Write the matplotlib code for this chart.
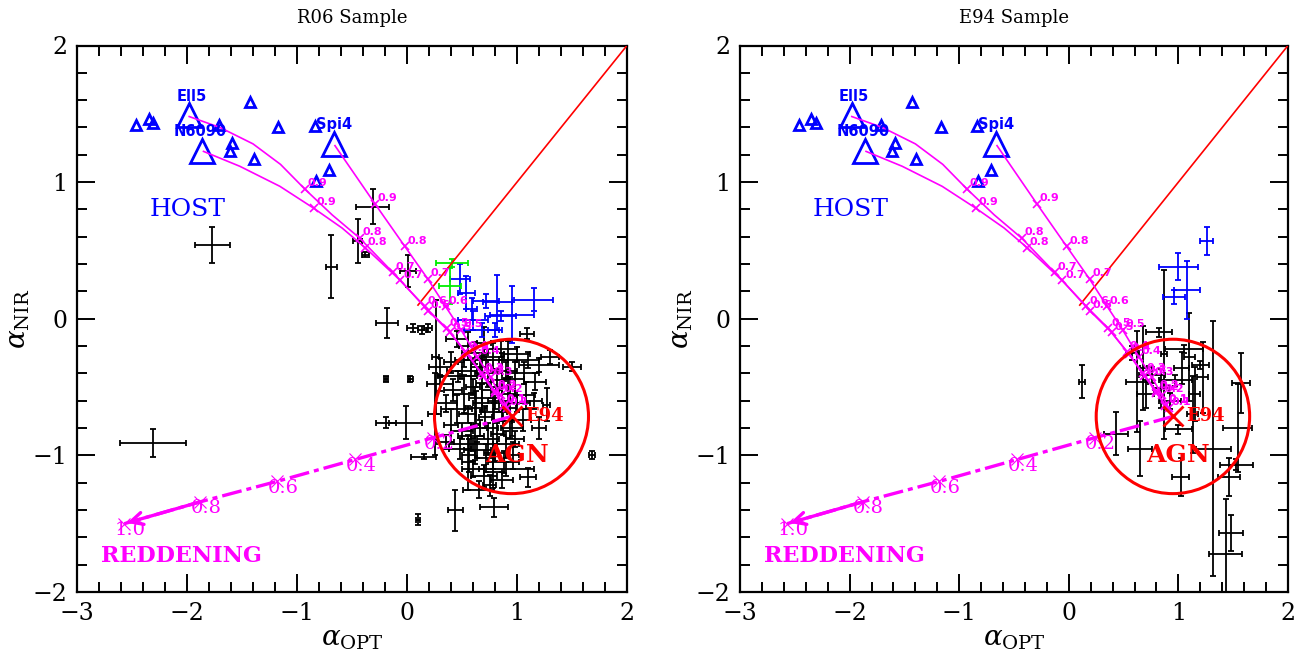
import matplotlib
matplotlib.use('Agg')
import matplotlib.pyplot as plt
from matplotlib.patches import Ellipse
from matplotlib.ticker import MultipleLocator

plt.rcParams['font.family'] = 'DejaVu Serif'
plt.rcParams['mathtext.fontset'] = 'dejavuserif'

# ---------------- data ----------------
titles = ["R06 Sample", "E94 Sample"]

# E94 AGN template
agn_x, agn_y = 0.95, -0.715

# host galaxy templates (small triangles)
host_x = [-2.46, -2.35, -2.31, -1.71, -1.43, -1.17, -1.59, -1.61, -1.39, -0.84, -0.71, -0.83]
host_y = [1.42, 1.46, 1.43, 1.42, 1.59, 1.40, 1.29, 1.23, 1.17, 1.41, 1.09, 1.01]

# labelled templates (large triangles)
tmpl_names = ["Ell5", "N6090", "Spi4"]
tmpl_x = [-1.98, -1.86, -0.66]
tmpl_y = [1.49, 1.23, 1.28]

# mixing tracks host -> AGN
frac_labels = ["0.9", "0.8", "0.7", "0.6", "0.5", "0.4", "0.3", "0.2", "0.1"]
ell5_path_x = [-1.98, -1.70, -1.40, -1.15, -0.93, -0.68, -0.43, -0.13, 0.16, 0.36, 0.53, 0.68, 0.80, 0.88, 0.95]
ell5_path_y = [1.48, 1.40, 1.28, 1.13, 0.95, 0.76, 0.59, 0.34, 0.09, -0.07, -0.24, -0.40, -0.53, -0.63, -0.715]
ell5_mark_x = [-0.93, -0.43, -0.13, 0.16, 0.36, 0.53, 0.68, 0.80, 0.88]
ell5_mark_y = [0.95, 0.59, 0.34, 0.09, -0.07, -0.24, -0.40, -0.53, -0.63]
n6090_path_x = [-1.85, -1.52, -1.155, -0.85, -0.59, -0.38, -0.06, 0.19, 0.39, 0.55, 0.69, 0.80, 0.88, 0.95]
n6090_path_y = [1.225, 1.116, 0.969, 0.81, 0.664, 0.52, 0.28, 0.06, -0.10, -0.26, -0.42, -0.54, -0.64, -0.715]
n6090_mark_x = [-0.85, -0.38, -0.06, 0.19, 0.39, 0.55, 0.69, 0.80, 0.88]
n6090_mark_y = [0.81, 0.52, 0.28, 0.06, -0.10, -0.26, -0.42, -0.54, -0.64]
spi4_path_x = [-0.655, -0.29, -0.02, 0.19, 0.35, 0.49, 0.64, 0.76, 0.85, 0.91, 0.95]
spi4_path_y = [1.267, 0.84, 0.53, 0.29, 0.09, -0.08, -0.28, -0.43, -0.56, -0.65, -0.715]
spi4_mark_x = [-0.29, -0.02, 0.19, 0.35, 0.49, 0.64, 0.76, 0.85, 0.91]
spi4_mark_y = [0.84, 0.53, 0.29, 0.09, -0.08, -0.28, -0.43, -0.56, -0.65]

# reddening vector (E(B-V) steps)
red_labels = ["0.2", "0.4", "0.6", "0.8", "1.0"]
red_x = [0.24, -0.47, -1.18, -1.88, -2.57]
red_y = [-0.87, -1.03, -1.19, -1.34, -1.50]

# R06 sample: black points
r06_x = [0.45, 0.55, 0.62, 0.70, 0.78, 0.85, 0.92, 1.00, 1.10, 1.20, 1.30, 0.40, 0.50, 0.58, 0.66, 0.74,
         0.82, 0.90, 0.98, 1.06, 1.16, 0.30, 0.42, 0.52, 0.60, 0.68, 0.76, 0.84, 0.92, 1.00, 1.08, 0.35,
         0.45, 0.55, 0.63, 0.71, 0.79, 0.87, 0.95, 1.05, 0.40, 0.50, 0.58, 0.66, 0.74, 0.82, 0.90, 0.98,
         0.48, 0.56, 0.64, 0.72, 0.80, 0.88, 0.96, 0.60, 0.70, 0.78, 0.86, 0.65, 0.75, 0.35, 0.30, 0.25,
         0.52, 0.68, 0.86, 0.94, 0.62, 0.78, 0.72, 0.60, 0.90, 0.55, 1.15, 1.20, 0.46, 0.80,
         -1.77, -2.31, -0.69, -0.31, -0.45, -0.38, -0.18, 0.01, 0.05, 0.14, 0.19, -0.19, 0.03, -0.19,
         -0.01, 0.26, 0.10, 0.44, 0.79, 1.68, 1.50, 1.27, 1.10, 1.09, 0.15]
r06_y = [-0.15, -0.20, -0.25, -0.18, -0.28, -0.22, -0.30, -0.26, -0.30, -0.34, -0.28, -0.32, -0.38, -0.42,
         -0.35, -0.40, -0.45, -0.38, -0.44, -0.40, -0.46, -0.48, -0.52, -0.55, -0.50, -0.58, -0.52, -0.60,
         -0.55, -0.62, -0.56, -0.62, -0.66, -0.70, -0.65, -0.72, -0.68, -0.75, -0.80, -0.74, -0.78, -0.82,
         -0.86, -0.80, -0.88, -0.84, -0.92, -0.88, -0.95, -1.00, -0.96, -1.02, -0.98, -1.05, -1.00, -1.10,
         -1.15, -1.12, -1.18, -1.25, -1.22, -0.90, -0.35, -0.70, -0.30, -0.47, -0.50, -0.65, -0.78, -0.80,
         -0.30, -0.92, -1.10, -1.05, -0.60, -0.80, -0.42, -0.62,
         0.54, -0.91, 0.38, 0.82, 0.57, 0.47, -0.03, 0.35, -0.07, -0.08, -0.07, -0.44, -0.44, -0.76,
         -0.76, -0.28, -1.47, -1.40, -1.38, -1.00, -0.35, -0.63, -1.16, -0.11, -1.01]
r06_xerr = [0.10, 0.08, 0.12, 0.06, 0.10, 0.15, 0.08, 0.12, 0.10, 0.18, 0.08, 0.06, 0.14, 0.10, 0.08, 0.12,
            0.06, 0.10, 0.08, 0.14, 0.10, 0.12, 0.08, 0.10, 0.06, 0.12, 0.08, 0.10, 0.06, 0.12, 0.08, 0.10,
            0.14, 0.08, 0.10, 0.06, 0.12, 0.08, 0.10, 0.08, 0.06, 0.10, 0.12, 0.08, 0.10, 0.06, 0.12, 0.08,
            0.10, 0.06, 0.12, 0.08, 0.10, 0.14, 0.06, 0.10, 0.12, 0.08, 0.10, 0.14, 0.06, 0.08, 0.10, 0.06,
            0.08, 0.05, 0.05, 0.05, 0.04, 0.05, 0.20, 0.22, 0.25, 0.05, 0.08, 0.06, 0.18, 0.20,
            0.16, 0.30, 0.05, 0.15, 0.04, 0.03, 0.10, 0.07, 0.05, 0.04, 0.04, 0.02, 0.02, 0.09,
            0.15, 0.03, 0.02, 0.07, 0.13, 0.03, 0.08, 0.03, 0.07, 0.06, 0.11]
r06_yerr = [0.06, 0.10, 0.08, 0.12, 0.10, 0.06, 0.14, 0.05, 0.06, 0.05, 0.05, 0.08, 0.06, 0.12, 0.06, 0.10,
            0.08, 0.06, 0.12, 0.08, 0.06, 0.05, 0.08, 0.14, 0.06, 0.10, 0.06, 0.08, 0.12, 0.06, 0.10, 0.06,
            0.10, 0.06, 0.12, 0.08, 0.06, 0.10, 0.06, 0.08, 0.12, 0.06, 0.10, 0.06, 0.12, 0.08, 0.10, 0.06,
            0.08, 0.12, 0.06, 0.10, 0.06, 0.08, 0.10, 0.06, 0.08, 0.12, 0.06, 0.06, 0.08, 0.05, 0.06, 0.30,
            0.05, 0.20, 0.25, 0.22, 0.28, 0.30, 0.05, 0.05, 0.05, 0.20, 0.06, 0.08, 0.04, 0.04,
            0.13, 0.10, 0.23, 0.13, 0.16, 0.02, 0.11, 0.12, 0.03, 0.03, 0.03, 0.02, 0.02, 0.04,
            0.12, 0.42, 0.04, 0.15, 0.07, 0.03, 0.03, 0.12, 0.07, 0.04, 0.02]

# R06 sample: blue and green points
r06b_x = [0.48, 0.54, 0.59, 0.72, 0.95, 1.15, 0.82, 0.60, 0.68, 0.80, 0.85]
r06b_y = [0.29, 0.19, 0.07, 0.13, 0.03, 0.14, 0.12, -0.01, -0.08, -0.08, 0.02]
r06b_xerr = [0.09, 0.08, 0.05, 0.12, 0.20, 0.18, 0.13, 0.14, 0.16, 0.06, 0.14]
r06b_yerr = [0.11, 0.12, 0.08, 0.05, 0.21, 0.085, 0.20, 0.07, 0.05, 0.05, 0.04]
r06g_x = [0.41, 0.39]
r06g_y = [0.41, 0.24]
r06g_xerr = [0.145, 0.10]
r06g_yerr = [0.03, 0.135]

# E94 sample: black and blue points
e94_x = [0.12, 0.87, 0.82, 0.62, 0.68, 0.65, 0.43, 1.02, 1.10, 1.22, 1.32, 1.57, 1.54, 1.46, 1.53,
         1.48, 1.43, 1.00, 0.76, 1.20, 1.05, 1.03, 0.84, 0.92, 1.13, 0.70, 0.97, 1.15, 0.58]
e94_y = [-0.46, -0.26, -0.10, -0.46, -0.36, -0.95, -0.84, -1.16, -0.28, -0.43, -0.95, -0.47, -0.80, -1.16, -1.07,
         -1.57, -1.72, -0.81, -0.41, -0.34, -0.22, -0.36, -0.51, -0.60, -0.70, -0.55, -0.45, -0.55, -0.25]
e94_xerr = [0.03, 0.03, 0.12, 0.10, 0.03, 0.11, 0.11, 0.08, 0.05, 0.05, 0.16, 0.08, 0.13, 0.10, 0.15,
            0.11, 0.15, 0.12, 0.12, 0.08, 0.17, 0.07, 0.07, 0.10, 0.05, 0.08, 0.15, 0.05, 0.06]
e94_yerr = [0.12, 0.62, 0.03, 0.37, 0.31, 0.20, 0.16, 0.14, 0.32, 0.26, 0.93, 0.22, 0.32, 0.14, 0.04,
            0.13, 0.40, 0.03, 0.06, 0.03, 0.03, 0.12, 0.14, 0.06, 0.28, 0.10, 0.04, 0.20, 0.05]
e94b_x = [1.26, 1.00, 1.08, 0.96]
e94b_y = [0.57, 0.38, 0.21, 0.16]
e94b_xerr = [0.06, 0.18, 0.12, 0.10]
e94b_yerr = [0.10, 0.10, 0.21, 0.05]

MAG = '#ff00ff'
BLUE = '#0000ff'
RED = '#ff0000'

fig = plt.figure(figsize=(13.09, 6.67), dpi=100)
bottom = 1 - 592 / 667
height = (592 - 45.5) / 667
axL = fig.add_axes([77 / 1309, bottom, 550 / 1309, height])
axR = fig.add_axes([740 / 1309, bottom, 548 / 1309, height])


def draw(ax, title, bx, by, bxe, bye, ux, uy, uxe, uye, gx=None, gy=None, gxe=None, gye=None):
    ax.set_xlim(-3, 2)
    ax.set_ylim(-2, 2)
    ax.set_title(title, fontsize=13, pad=16)
    ax.xaxis.set_major_locator(MultipleLocator(1))
    ax.xaxis.set_minor_locator(MultipleLocator(0.2))
    ax.yaxis.set_major_locator(MultipleLocator(1))
    ax.yaxis.set_minor_locator(MultipleLocator(0.2))
    ax.tick_params(which='both', direction='in', top=True, right=True, labelsize=17, width=1.4)
    ax.tick_params(which='major', length=13, pad=7)
    ax.tick_params(which='minor', length=7)
    for s in ax.spines.values():
        s.set_linewidth(1.6)
    ax.set_xlabel(r'$\alpha_{\rm OPT}$', fontsize=20, labelpad=0)
    ax.set_ylabel(r'$\alpha_{\rm NIR}$', fontsize=20, labelpad=0)

    ekw = dict(fmt='none', elinewidth=1.3, capsize=2.2, capthick=1.3, zorder=2)
    ax.errorbar(bx, by, xerr=bxe, yerr=bye, ecolor='black', **ekw)
    ax.errorbar(ux, uy, xerr=uxe, yerr=uye, ecolor=BLUE, **ekw)
    if gx is not None:
        ax.errorbar(gx, gy, xerr=gxe, yerr=gye, ecolor='#00ee00', **ekw)

    # y = x line
    ax.plot([0.1, 2.0], [0.1, 2.0], color=RED, lw=1.2, zorder=3)

    # hosts
    ax.plot(host_x, host_y, ls='none', marker='^', ms=6.5, mfc='none', mec=BLUE, mew=2, zorder=4)
    ax.plot(tmpl_x, tmpl_y, ls='none', marker='^', ms=17, mfc='none', mec=BLUE, mew=2, zorder=4)
    ax.text(tmpl_x[0] + 0.02, tmpl_y[0] + 0.08, tmpl_names[0], color=BLUE, fontsize=10.5,
            fontweight='bold', family='DejaVu Sans', ha='center', va='bottom', zorder=6)
    ax.text(tmpl_x[1] - 0.02, tmpl_y[1] + 0.14, tmpl_names[1], color=BLUE, fontsize=10.5,
            fontweight='bold', family='DejaVu Sans', ha='center', va='center', zorder=6)
    ax.text(tmpl_x[2], tmpl_y[2] + 0.14, tmpl_names[2], color=BLUE, fontsize=10.5,
            fontweight='bold', family='DejaVu Sans', ha='center', va='center', zorder=6)

    # mixing tracks
    for px, py, mx, my in [(ell5_path_x, ell5_path_y, ell5_mark_x, ell5_mark_y),
                           (n6090_path_x, n6090_path_y, n6090_mark_x, n6090_mark_y),
                           (spi4_path_x, spi4_path_y, spi4_mark_x, spi4_mark_y)]:
        ax.plot(px, py, color=MAG, lw=1.2, zorder=5)
        ax.plot(mx, my, ls='none', marker='x', ms=6, mec=MAG, mew=1.2, zorder=5)
        for lab, x, y in zip(frac_labels, mx, my):
            ax.annotate(lab, (x, y), xytext=(2, 2), textcoords='offset points', color=MAG,
                        fontsize=8, fontweight='bold', family='DejaVu Sans', zorder=5)

    # reddening vector
    ax.plot([agn_x] + red_x, [agn_y] + red_y, color=MAG, lw=2.4, ls=(0, (6, 1.5, 1.5, 1.5)), zorder=5)
    ax.plot(red_x, red_y, ls='none', marker='x', ms=9, mec=MAG, mew=0.8, zorder=5)
    for lab, x, y in zip(red_labels, red_x, red_y):
        ax.annotate(lab, (x, y), xytext=(4, 2), textcoords='offset points', color=MAG,
                    fontsize=14, ha='center', va='top', zorder=5)
    ax.annotate('', xy=(red_x[-1], red_y[-1]), xytext=(red_x[-2], red_y[-2]),
                arrowprops=dict(arrowstyle='->', color=MAG, lw=2.4, mutation_scale=22), zorder=5)

    # AGN template
    ax.plot([agn_x], [agn_y], ls='none', marker='x', ms=14, mec=RED, mew=2, zorder=6)
    ax.add_patch(Ellipse((agn_x, agn_y), 1.40, 1.13, fill=False, ec=RED, lw=2.2, zorder=6))
    ax.text(agn_x + 0.12, agn_y, 'E94', color=RED, fontsize=13, fontweight='bold', ha='left',
            va='center', zorder=6)
    ax.text(agn_x + 0.05, -1.0, 'AGN', color=RED, fontsize=18, fontweight='bold', ha='center',
            va='center', zorder=6)

    ax.text(-1.99, 0.8, 'HOST', color=BLUE, fontsize=18, ha='center', va='center', zorder=6)
    ax.text(-2.05, -1.74, 'REDDENING', color=MAG, fontsize=16, fontweight='bold', ha='center',
            va='center', zorder=6)


draw(axL, titles[0], r06_x, r06_y, r06_xerr, r06_yerr, r06b_x, r06b_y, r06b_xerr, r06b_yerr,
     r06g_x, r06g_y, r06g_xerr, r06g_yerr)
draw(axR, titles[1], e94_x, e94_y, e94_xerr, e94_yerr, e94b_x, e94b_y, e94b_xerr, e94b_yerr)

fig.savefig('out.png', dpi=100)
